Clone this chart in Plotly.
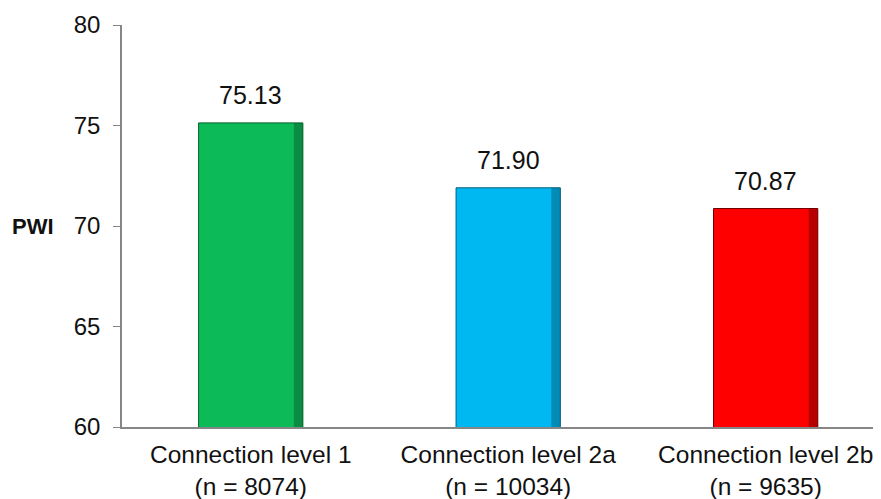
import plotly.graph_objects as go

categories = ["Connection level 1<br>(n = 8074)", "Connection level 2a<br>(n = 10034)", "Connection level 2b<br>(n = 9635)"]
values = [75.13, 71.90, 70.87]
value_labels = ["75.13", "71.90", "70.87"]
colors = ["#0DBA58", "#00B8F1", "#FE0000"]
edge_colors = ["#05602B", "#035E7E", "#700000"]
y_ticks = [60, 65, 70, 75, 80]

FONT = "Liberation Sans, Arial, sans-serif"
BAR_W = 0.405
EDGE_W = 0.035

fig = go.Figure()
# main bars
fig.add_trace(go.Bar(
    x=categories, y=values, base=0,
    marker=dict(color=colors, line=dict(width=0)),
    width=BAR_W, offset=-BAR_W / 2,
    hoverinfo="skip",
))
# bevel: dark right edge
fig.add_trace(go.Bar(
    x=categories, y=values, base=0,
    marker=dict(color=edge_colors, opacity=0.5, line=dict(width=0)),
    width=EDGE_W, offset=BAR_W / 2 - EDGE_W,
    hoverinfo="skip",
))
# outline
fig.add_trace(go.Bar(
    x=categories, y=values, base=0,
    marker=dict(color="rgba(0,0,0,0)", line=dict(color=edge_colors, width=1)),
    width=BAR_W, offset=-BAR_W / 2,
    hoverinfo="skip",
))

for c, v, t in zip(categories, values, value_labels):
    fig.add_annotation(
        x=c, y=v, text=t, showarrow=False, yanchor="bottom", yshift=12,
        font=dict(size=25, color="#111111", family=FONT),
    )

fig.update_layout(
    width=873, height=491,
    margin=dict(l=114, r=0, t=17, b=72),
    plot_bgcolor="white", paper_bgcolor="white",
    font=dict(family=FONT, size=24, color="#111111"),
    showlegend=False,
    barmode="overlay",
)
fig.update_xaxes(
    range=[-0.5, 2.448],
    showline=True, linecolor="#868686", linewidth=1.5,
    ticks="", tickfont=dict(size=24.5, color="#111111"),
    ticklabelstandoff=5,
    showgrid=False, zeroline=False,
)
fig.update_yaxes(
    range=[60, 80], tickvals=y_ticks,
    showline=True, linecolor="#868686", linewidth=1.5,
    ticks="outside", ticklen=7, tickcolor="#868686",
    tickfont=dict(size=24, color="#111111"),
    ticklabelstandoff=8,
    showgrid=False, zeroline=False,
)
fig.add_annotation(
    text="<b>PWI</b>", x=-(114 - 25) / 759, y=70, xref="paper", yref="y",
    xanchor="center", showarrow=False,
    font=dict(size=22, color="#111111", family=FONT),
)

fig.write_html("out.html")
